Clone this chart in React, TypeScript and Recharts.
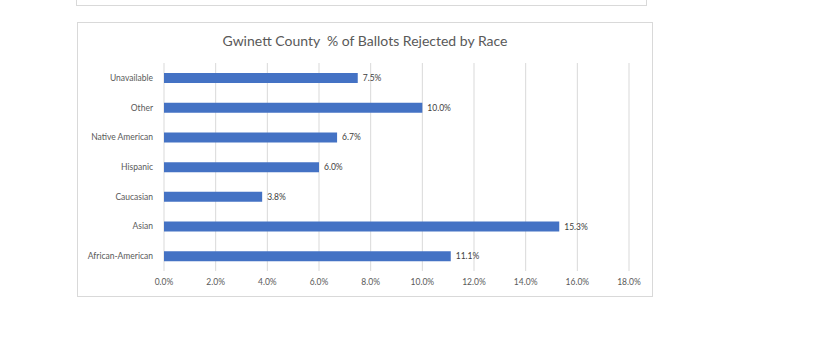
import { BarChart, Bar, XAxis, YAxis, CartesianGrid, LabelList } from "recharts";

const categories = [
  "Unavailable",
  "Other",
  "Native American",
  "Hispanic",
  "Caucasian",
  "Asian",
  "African-American",
];
const rejectedPct = [7.5, 10.0, 6.7, 6.0, 3.8, 15.3, 11.1];
const xTicks = [0, 2, 4, 6, 8, 10, 12, 14, 16, 18];

const data = categories.map((race, i) => ({ race, value: rejectedPct[i] }));

const font = "Lato, 'Open Sans', sans-serif";
const pct = (v: any) => `${Number(v).toFixed(1)}%`;

export default function App() {
  return (
    <div
      style={{
        position: "absolute",
        left: 0,
        top: 0,
        width: 840,
        height: 352,
        background: "#fff",
        overflow: "hidden",
        fontFamily: font,
      }}
    >
      {/* bottom of the previous chart's frame */}
      <div
        style={{
          position: "absolute",
          left: 76,
          top: -40,
          width: 569,
          height: 44,
          border: "1px solid #d9d9d9",
        }}
      />
      {/* this chart's frame */}
      <div
        style={{
          position: "absolute",
          left: 77,
          top: 22,
          width: 574,
          height: 273,
          border: "1px solid #d9d9d9",
        }}
      />
      <div
        style={{
          position: "absolute",
          left: 77,
          top: 32,
          width: 576,
          textAlign: "center",
          fontSize: 14,
          color: "#595959",
        }}
      >
        Gwinett County&nbsp; % of Ballots Rejected by Race
      </div>
      <div style={{ position: "absolute", left: 0, top: 0 }}>
        <BarChart
          width={840}
          height={352}
          data={data}
          layout="vertical"
          margin={{ top: 63, right: 211, bottom: 61, left: 0 }}
        >
          <CartesianGrid horizontal={false} stroke="#d9d9d9" />
          <XAxis
            type="number"
            domain={[0, 18]}
            ticks={xTicks}
            tickFormatter={pct}
            axisLine={false}
            tickLine={false}
            tick={{ fontSize: 8.5, fill: "#595959", fontFamily: font }}
            height={20}
          />
          <YAxis
            type="category"
            dataKey="race"
            width={164}
            axisLine={false}
            tickLine={false}
            tickMargin={5}
            tick={{ fontSize: 8.5, fill: "#595959", fontFamily: font }}
          />
          <Bar dataKey="value" fill="#4472c4" barSize={10} isAnimationActive={false}>
            <LabelList
              dataKey="value"
              position="right"
              offset={5}
              formatter={pct}
              style={{ fontSize: 8.5, fill: "#404040", fontFamily: font }}
            />
          </Bar>
        </BarChart>
      </div>
    </div>
  );
}
